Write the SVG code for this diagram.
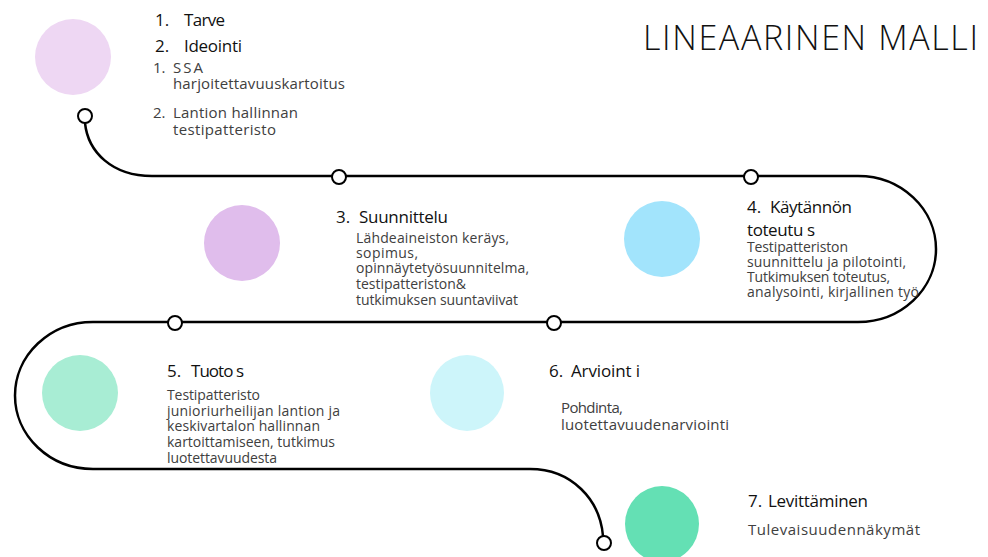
<svg xmlns="http://www.w3.org/2000/svg" width="988" height="557" viewBox="0 0 988 557">
<style>
.h{font-family:"Open Sans","Noto Sans",sans-serif;font-size:17px;fill:#111}
.b{font-family:"Open Sans","Noto Sans",sans-serif;font-size:14px;fill:#404040}
.bl{font-family:"Open Sans","Noto Sans",sans-serif;font-size:15px;fill:#404040}
.n{fill:#fff;stroke:#000;stroke-width:2}
.t{font-family:"Open Sans","Noto Sans",sans-serif;font-size:34px;fill:#111;font-weight:300}
</style>
<rect width="988" height="557" fill="#fff"/>
<g id="connectors">
<path d="M85 123 C88 152 112 176 152 176 L858 176 A78 73 0 0 1 858 322 L93 322 A78 73.5 0 0 0 93 469 L530 469 C572 469 600 500 603 536" fill="none" stroke="#000" stroke-width="2.5"/>
<circle class="n" cx="85" cy="116" r="7"/>
<circle class="n" cx="339" cy="177" r="7"/>
<circle class="n" cx="751" cy="177" r="7"/>
<circle class="n" cx="175" cy="323" r="7"/>
<circle class="n" cx="554" cy="323" r="7"/>
<circle class="n" cx="604" cy="543" r="7"/>
</g>
<text class="t" x="643" y="50" textLength="335" lengthAdjust="spacing">LINEAARINEN MALLI</text>
<g id="node1">
<circle cx="73" cy="57" r="38" fill="#EED7F3"/>
<text class="h" y="26"><tspan x="155">1.</tspan><tspan x="184" textLength="41">Tarve</tspan></text>
<text class="h" y="52"><tspan x="155">2.</tspan><tspan x="184" textLength="58">Ideointi</tspan></text>
<text class="bl" y="73"><tspan x="153">1.</tspan><tspan x="173" textLength="30">SSA</tspan></text>
<text class="bl" x="173" y="89" textLength="172">harjoitettavuuskartoitus</text>
<text class="bl" y="118"><tspan x="153">2.</tspan><tspan x="173" textLength="125">Lantion hallinnan</tspan></text>
<text class="bl" x="173" y="135" textLength="103">testipatteristo</text>
</g>
<g id="node3">
<circle cx="242" cy="243" r="38" fill="#E0BDEC"/>
<text class="h" y="223"><tspan x="336">3.</tspan><tspan x="359" textLength="89">Suunnittelu</tspan></text>
<text class="b" x="356" y="243" textLength="153">Lähdeaineiston keräys,</text>
<text class="b" x="356" y="258" textLength="62">sopimus,</text>
<text class="b" x="356" y="273" textLength="173">opinnäytetyösuunnitelma,</text>
<text class="b" x="356" y="289" textLength="110">testipatteriston&amp;</text>
<text class="b" x="356" y="305" textLength="162">tutkimuksen suuntaviivat</text>
</g>
<g id="node4">
<circle cx="662" cy="239" r="38" fill="#A2E4FC"/>
<text class="h" y="213"><tspan x="747">4.</tspan><tspan x="770" textLength="82">Käytännön</tspan></text>
<text class="h" x="747" y="236" textLength="68">toteutu s</text>
<text class="b" x="747" y="252" textLength="101">Testipatteriston</text>
<text class="b" x="747" y="267" textLength="159">suunnittelu ja pilotointi,</text>
<text class="b" x="747" y="282" textLength="143">Tutkimuksen toteutus,</text>
<text class="b" x="747" y="297" textLength="172">analysointi, kirjallinen työ</text>
</g>
<g id="node5">
<circle cx="80" cy="393" r="38" fill="#A8EDD4"/>
<text class="h" y="377"><tspan x="167">5.</tspan><tspan x="191" textLength="53">Tuoto s</tspan></text>
<text class="b" x="167" y="400" textLength="93">Testipatteristo</text>
<text class="b" x="167" y="416" textLength="173">junioriurheilijan lantion ja</text>
<text class="b" x="167" y="431" textLength="153">keskivartalon hallinnan</text>
<text class="b" x="167" y="447" textLength="168">kartoittamiseen, tutkimus</text>
<text class="b" x="167" y="463" textLength="110">luotettavuudesta</text>
</g>
<g id="node6">
<ellipse cx="467" cy="393" rx="37" ry="38" fill="#CDF5FA"/>
<text class="h" y="377"><tspan x="549">6.</tspan><tspan x="571" textLength="69">Arvioint i</tspan></text>
<text class="bl" x="561" y="413" textLength="62">Pohdinta,</text>
<text class="bl" x="561" y="430" textLength="168">luotettavuudenarviointi</text>
</g>
<g id="node7">
<ellipse cx="662" cy="524" rx="37" ry="38" fill="#64E0B4"/>
<text class="h" y="507"><tspan x="748">7.</tspan><tspan x="768" textLength="100">Levittäminen</tspan></text>
<text class="bl" x="748" y="535" textLength="172">Tulevaisuudennäkymät</text>
</g>
</svg>
